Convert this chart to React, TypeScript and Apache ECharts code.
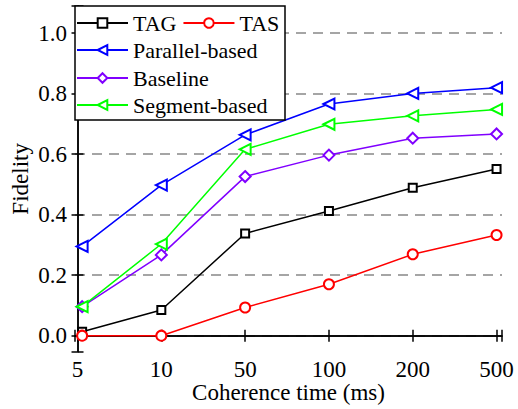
import React, { useEffect, useRef } from "react";
import * as echarts from "echarts";

const categories = ["5", "10", "50", "100", "200", "500"];
const xValues = [0.055, 1, 2, 3, 4, 5];
const tag = [0.013, 0.085, 0.338, 0.412, 0.489, 0.551];
const tas = [0.0, 0.0, 0.093, 0.17, 0.269, 0.333];
const parallel = [0.295, 0.498, 0.664, 0.766, 0.801, 0.82];
const baseline = [0.096, 0.267, 0.526, 0.597, 0.653, 0.667];
const segment = [0.096, 0.303, 0.616, 0.699, 0.727, 0.748];

const FONT = "Liberation Serif";

export default function App() {
  const ref = useRef<HTMLDivElement>(null);
  useEffect(() => {
    if (!ref.current) return;
    const chart = echarts.init(ref.current, undefined, { renderer: "svg" });
    const pts = (arr: number[]) => arr.map((v, i) => [xValues[i], v]);
    const mk = (name: string, data: number[], color: string, symbol: string, size: number, rotate = 0) => ({
      name,
      type: "line",
      data: pts(data),
      xAxisIndex: 0,
      yAxisIndex: 0,
      symbol,
      symbolSize: size,
      symbolRotate: rotate,
      color,
      itemStyle: { color, borderWidth: 1.5 },
      lineStyle: { color, width: 1.5 },
      z: 2,
    });
    const axisCommon = {
      axisLine: { show: true, lineStyle: { color: "#000", width: 1.5 } },
      axisTick: { show: true, inside: true, length: 6, lineStyle: { color: "#000", width: 1.5 } },
    };
    const gridColors = ["rgba(0,0,0,0)", "#888", "#888", "#888", "#888", "#888", "#888", "rgba(0,0,0,0)"];
    const legendBase = {
      orient: "horizontal",
      padding: 0,
      itemWidth: 51,
      itemHeight: 12,
      itemGap: 6,
      textStyle: { fontFamily: FONT, fontSize: 22, color: "#000", padding: [0, 0, 0, 0] },
      left: 76,
      z: 5,
    };
    chart.setOption({
      animation: false,
      backgroundColor: "#fff",
      textStyle: { fontFamily: FONT },
      grid: { left: 75, right: 16, top: 6, bottom: 57.3, containLabel: false, outerBoundsMode: "none" },
      xAxis: [
        {
          type: "value",
          min: -0.03,
          max: 5.065,
          splitNumber: 5,
          position: "bottom",
          ...axisCommon,
          splitLine: { show: false },
          axisLabel: {
            fontFamily: FONT,
            fontSize: 23,
            color: "#000",
            margin: 6,
            showMinLabel: true,
            showMaxLabel: true,
            formatter: (v: number) => {
              const r = Math.round(v);
              return Math.abs(v - r) < 1e-6 && r >= 0 && r < categories.length ? categories[r] : "";
            },
          },
          name: "Coherence time (ms)",
          nameLocation: "middle",
          nameGap: 29,
          nameMoveOverlap: false,
          nameTextStyle: { fontFamily: FONT, fontSize: 23, color: "#000" },
        },
        {
          type: "value",
          min: -0.03,
          max: 5.065,
          splitNumber: 5,
          position: "top",
          ...axisCommon,
          splitLine: { show: false },
          axisLabel: { show: false },
        },
      ],
      yAxis: [
        {
          type: "value",
          min: -0.053,
          max: 1.09,
          splitNumber: 6,
          position: "left",
          ...axisCommon,
          splitLine: { show: true, lineStyle: { color: gridColors, width: 1.5, type: [10, 7] } },
          axisLabel: {
            fontFamily: FONT,
            fontSize: 23,
            color: "#000",
            margin: 8,
            formatter: (v: number) => {
              const r = Math.round(v * 5) / 5;
              return Math.abs(v - r) < 1e-6 ? r.toFixed(1) : "";
            },
          },
          name: "Fidelity",
          nameLocation: "middle",
          nameGap: 43,
          nameMoveOverlap: false,
          nameTextStyle: { fontFamily: FONT, fontSize: 23, color: "#000" },
        },
        {
          type: "value",
          min: -0.053,
          max: 1.09,
          splitNumber: 6,
          position: "right",
          ...axisCommon,
          splitLine: { show: false },
          axisLabel: { show: false },
        },
      ],
      legend: [
        { ...legendBase, top: 12, data: ["TAG", "TAS"] },
        { ...legendBase, top: 39, data: ["Parallel-based"] },
        { ...legendBase, top: 67, data: ["Baseline"] },
        { ...legendBase, top: 94, data: ["Segment-based"] },
      ],
      graphic: [
        {
          type: "rect",
          z: 4,
          shape: { x: 75, y: 6, width: 210, height: 114 },
          style: { fill: "#fff", stroke: "#000", lineWidth: 1.5 },
        },
      ],
      series: [
        mk("TAG", tag, "#000000", "emptyRect", 8),
        mk("TAS", tas, "#ff0000", "emptyCircle", 10),
        mk("Parallel-based", parallel, "#0000ff", "emptyTriangle", 11, 90),
        mk("Baseline", baseline, "#8000ff", "emptyDiamond", 11),
        mk("Segment-based", segment, "#00ff00", "emptyTriangle", 11, 90),
      ],
    });
    return () => chart.dispose();
  }, []);
  return <div ref={ref} style={{ position: "fixed", left: 0, top: 0, width: 518, height: 409 }} />;
}
